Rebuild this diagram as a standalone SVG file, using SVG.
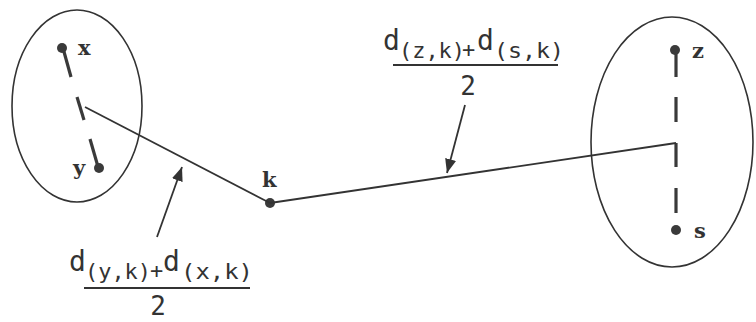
<svg xmlns="http://www.w3.org/2000/svg" width="756" height="322" viewBox="0 0 756 322">
<style>
.ell{fill:none;stroke:#333;stroke-width:1.6}
.conn{fill:none;stroke:#333;stroke-width:1.8}
.dash{stroke:#3a3a3a;stroke-width:3.2;stroke-linecap:butt}
.dot{fill:#3a3a3a}
.lbl{font-family:"DejaVu Serif",serif;font-weight:bold;font-size:21px;fill:#333}
.f{font-family:"DejaVu Sans Mono",monospace;fill:#333}
.big{font-size:28px}
.sub{font-size:21px}
.plus{font-size:22px}
.frac{stroke:#333;stroke-width:2}
</style>
<defs>
<marker id="ah" viewBox="0 0 10 10" refX="10" refY="5" markerWidth="14" markerHeight="14" markerUnits="userSpaceOnUse" orient="auto">
<path d="M0,1 L10,5 L0,9 Z" fill="#333"/>
</marker>
</defs>
<rect width="756" height="322" fill="#fff"/>
<g id="cluster-left">
<ellipse class="ell" cx="77" cy="106" rx="65" ry="96"/>
<line class="dash" x1="63.5" y1="50" x2="71" y2="77"/>
<line class="dash" x1="77" y1="97" x2="84" y2="120"/>
<line class="dash" x1="90" y1="139" x2="97.5" y2="165"/>
</g>
<g id="node-x">
<circle class="dot" cx="62" cy="48" r="5"/>
<text class="lbl" x="78" y="55">x</text>
</g>
<g id="node-y">
<circle class="dot" cx="99" cy="168" r="5"/>
<text class="lbl" x="73" y="175">y</text>
</g>
<g id="node-k">
<circle class="dot" cx="270" cy="203" r="5"/>
<text class="lbl" x="262" y="187">k</text>
</g>
<g id="cluster-right">
<ellipse class="ell" cx="672" cy="142" rx="81" ry="125"/>
<line class="dash" x1="676" y1="51" x2="676" y2="77"/>
<line class="dash" x1="676" y1="97" x2="676" y2="122"/>
<line class="dash" x1="676" y1="143" x2="676" y2="167"/>
<line class="dash" x1="676" y1="188" x2="676" y2="213"/>
</g>
<g id="node-z">
<circle class="dot" cx="675" cy="50" r="5"/>
<text class="lbl" x="692" y="58">z</text>
</g>
<g id="node-s">
<circle class="dot" cx="676" cy="230" r="5"/>
<text class="lbl" x="694" y="238">s</text>
</g>
<g id="connectors">
<line class="conn" x1="85" y1="107" x2="270" y2="203"/>
<line class="conn" x1="270" y1="203" x2="676" y2="143"/>
<line class="conn" x1="157" y1="237" x2="182" y2="167" marker-end="url(#ah)" stroke-width="1.5"/>
<line class="conn" x1="465" y1="105" x2="447" y2="173" marker-end="url(#ah)" stroke-width="1.5"/>
</g>
<g id="label-left">
<text class="f big" x="69" y="271">d</text>
<text class="f sub" x="85" y="279" textLength="66" lengthAdjust="spacingAndGlyphs">(y,k)</text>
<text class="f plus" x="150" y="278">+</text>
<text class="f big" x="163" y="271">d</text>
<text class="f sub" x="181" y="279" textLength="72" lengthAdjust="spacingAndGlyphs">(x,k)</text>
<line class="frac" x1="84" y1="288" x2="250" y2="288"/>
<text class="f" x="158" y="315" font-size="26" text-anchor="middle">2</text>
</g>
<g id="label-right">
<text class="f big" x="383" y="50">d</text>
<text class="f sub" x="399" y="58" textLength="66" lengthAdjust="spacingAndGlyphs">(z,k)</text>
<text class="f plus" x="462" y="57">+</text>
<text class="f big" x="477" y="50">d</text>
<text class="f sub" x="494" y="58" textLength="70" lengthAdjust="spacingAndGlyphs">(s,k)</text>
<line class="frac" x1="393" y1="65" x2="558" y2="65"/>
<text class="f" x="468" y="95" font-size="26" text-anchor="middle">2</text>
</g>
</svg>
